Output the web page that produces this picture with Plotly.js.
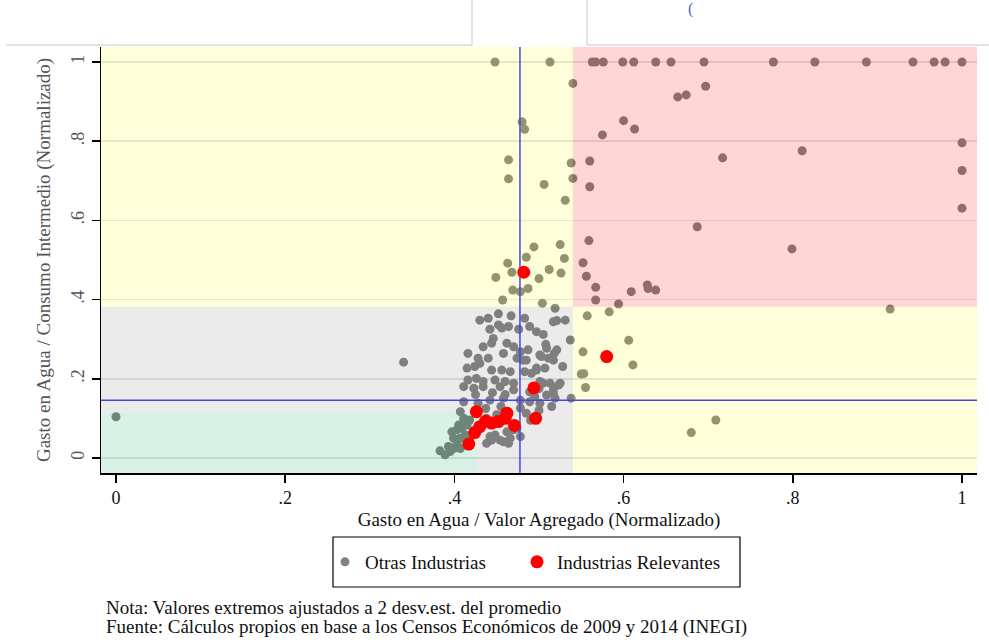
<!DOCTYPE html>
<html>
<head>
<meta charset="utf-8">
<script src="https://cdn.plot.ly/plotly-3.0.1.min.js"></script>
<style>
  html, body { margin: 0; padding: 0; background: #ffffff; }
  #chart { width: 989px; height: 643px; }
</style>
</head>
<body>
<div id="chart"></div>
<script>
// ---------- Data: "Otras Industrias" (gray) ----------
const otherX_top = [0.448,0.513,0.563,0.567,0.576,0.599,0.612,0.638,0.656,0.695,0.777,0.826,0.887,0.942,0.967,0.980,1.000];
const otherY_top = [1,1,1,1,1,1,1,1,1,1,1,1,1,1,1,1,1];

const otherX_upper = [0.540,0.664,0.674,0.697,0.480,0.483,0.600,0.613,0.575,1.000,
                      0.811,0.717,0.464,0.538,0.560,1.000,0.464,0.540,0.506,0.560,
                      0.531,1.000,0.687,0.559,0.799,0.494,0.525,0.485,0.530,0.552,
                      0.463,0.449,0.468,0.512,0.526,0.500,0.556,0.487,0.469,0.478,
                      0.567,0.628,0.629,0.638,0.609,0.457,0.504,0.567,0.594,0.519,
                      0.915,0.583,0.557];
const otherY_upper = [0.946,0.912,0.917,0.939,0.849,0.830,0.852,0.831,0.816,0.796,
                      0.776,0.758,0.753,0.745,0.750,0.726,0.705,0.706,0.691,0.685,
                      0.651,0.631,0.584,0.549,0.528,0.533,0.539,0.507,0.504,0.493,
                      0.492,0.456,0.469,0.476,0.467,0.453,0.459,0.428,0.424,0.420,
                      0.431,0.437,0.428,0.424,0.420,0.399,0.391,0.399,0.389,0.378,
                      0.376,0.369,0.359];

const otherX_side = [0.537,0.606,0.552,0.611,0.550,0.553,0.555,0.538,0.709,0.680,0.528,0.531,0.340,0.000];
const otherY_side = [0.298,0.297,0.268,0.235,0.212,0.213,0.178,0.151,0.096,0.064,0.231,0.348,0.242,0.104];

const otherX_cluster = [0.430,0.440,0.452,0.467,0.483,0.521,0.517,0.452,0.442,0.456,
                        0.464,0.476,0.489,0.497,0.505,0.446,0.434,0.444,0.462,0.470,
                        0.508,0.521,0.518,0.509,0.478,0.487,0.416,0.428,0.440,0.458,
                        0.474,0.481,0.503,0.517,0.485,0.501,0.511,0.415,0.424,0.430,
                        0.444,0.456,0.466,0.483,0.497,0.507,0.491,0.497,0.416,0.426,
                        0.434,0.448,0.460,0.470,0.501,0.513,0.523,0.525,0.505,0.411,
                        0.423,0.434,0.454,0.470,0.489,0.509,0.517,0.517,0.519,0.411,
                        0.428,0.442,0.458,0.478,0.489,0.501,0.515,0.478,0.485,0.407,
                        0.411,0.405,0.438,0.450,0.462,0.474,0.448,0.458,0.444,0.466,
                        0.438,0.454,0.442,0.464,0.478,0.470,0.425,0.445,0.460,0.495,
                        0.500,0.437,0.455,0.500,0.490];
const otherY_cluster = [0.348,0.353,0.364,0.359,0.353,0.347,0.344,0.336,0.325,0.328,
                        0.332,0.325,0.332,0.319,0.312,0.302,0.281,0.290,0.290,0.281,
                        0.287,0.273,0.264,0.277,0.268,0.273,0.264,0.252,0.252,0.264,
                        0.252,0.247,0.256,0.247,0.247,0.260,0.252,0.227,0.231,0.239,
                        0.222,0.222,0.218,0.218,0.222,0.227,0.214,0.227,0.197,0.201,
                        0.193,0.197,0.193,0.189,0.193,0.189,0.184,0.189,0.189,0.180,
                        0.176,0.180,0.180,0.172,0.167,0.159,0.163,0.172,0.151,0.142,
                        0.138,0.146,0.151,0.146,0.142,0.138,0.130,0.126,0.113,0.117,
                        0.100,0.083,0.100,0.109,0.066,0.075,0.058,0.041,0.045,0.050,
                        0.037,0.045,0.054,0.037,0.054,0.071,0.160,0.165,0.160,0.155,
                        0.175,0.125,0.130,0.120,0.095];

const otherX_low = [0.383,0.389,0.395,0.399,0.393,0.403,0.407,0.399,0.413,0.397,
                    0.403,0.409,0.415,0.418,0.411,0.423,0.415,0.407,0.418,0.427];
const otherY_low = [0.018,0.008,0.016,0.024,0.029,0.037,0.050,0.050,0.058,0.066,
                    0.071,0.075,0.083,0.096,0.092,0.066,0.033,0.024,0.050,0.075];

// ---------- Data: "Industrias Relevantes" (red) ----------
const relevX = [0.482,0.580,0.494,0.426,0.437,0.430,0.424,0.444,0.452,0.460,0.462,0.471,0.496,0.417];
const relevY = [0.469,0.256,0.177,0.117,0.093,0.079,0.064,0.088,0.092,0.100,0.113,0.082,0.100,0.035];

// ---------- Reference lines and quadrant cut-offs ----------
const meanX = 0.4775;      // vertical blue line
const meanY = 0.146;       // horizontal blue line
const cutX = 0.540;        // high/low x cut
const cutY = 0.382;        // high/low y cut
const greenX = 0.427;      // low-low cut
const greenY = 0.114;

// ---------- Axes ----------
const xRange = [-0.0177, 1.0177];
const yRange = [-0.038, 1.038];
const tickVals = [0, 0.2, 0.4, 0.6, 0.8, 1];
const tickText = ['0', '.2', '.4', '.6', '.8', '1'];

const labels = {
  xTitle: 'Gasto en Agua / Valor Agregado (Normalizado)',
  yTitle: 'Gasto en Agua / Consumo Intermedio (Normalizado)',
  other: 'Otras Industrias',
  relev: 'Industrias Relevantes',
  note1: 'Nota: Valores extremos ajustados a 2 desv.est. del promedio',
  note2: 'Fuente: Cálculos propios en base a los Censos Económicos de 2009 y 2014 (INEGI)'
};

const otherX = [].concat(otherX_top, otherX_upper, otherX_side, otherX_cluster, otherX_low);
const otherY = [].concat(otherY_top, otherY_upper, otherY_side, otherY_cluster, otherY_low);

const FONT = '"Liberation Serif", "Times New Roman", serif';
const [x0, x1] = xRange, [y0, y1] = yRange;

function region(xs, ys, color) {
  return { type: 'scatter', mode: 'none', x: xs, y: ys, fill: 'toself',
           fillcolor: color, hoverinfo: 'skip', showlegend: false };
}

const traces = [
  { type: 'scatter', mode: 'markers', name: labels.other, x: otherX, y: otherY,
    marker: { color: '#808080', size: 9 }, hoverinfo: 'x+y', legend: 'legend' },
  // quadrant shading (drawn translucent over the gray markers)
  region([x0, cutX, cutX, x0], [cutY, cutY, y1, y1], 'rgba(255,255,0,0.15)'),
  region([cutX, x1, x1, cutX], [cutY, cutY, y1, y1], 'rgba(255,0,0,0.16)'),
  region([cutX, x1, x1, cutX], [y0, y0, cutY, cutY], 'rgba(255,255,0,0.15)'),
  region([x0, x0, cutX, cutX, greenX, greenX], [greenY, cutY, cutY, y0, y0, greenY], 'rgba(120,120,120,0.15)'),
  region([x0, greenX, greenX, x0], [y0, y0, greenY, greenY], 'rgba(0,170,80,0.15)'),
  // reference lines
  { type: 'scatter', mode: 'lines', x: [meanX, meanX], y: [y0, y1], line: { color: '#4646e6', width: 1.5 },
    hoverinfo: 'skip', showlegend: false },
  { type: 'scatter', mode: 'lines', x: [x0, x1], y: [meanY, meanY], line: { color: '#4646e6', width: 1.5 },
    hoverinfo: 'skip', showlegend: false },
  { type: 'scatter', mode: 'markers', name: labels.relev, x: relevX, y: relevY,
    marker: { color: '#ff0000', size: 13 }, hoverinfo: 'x+y', legend: 'legend2' }
];

const plotL = 101, plotR = 977, plotT = 47, plotB = 473;
const plotW = plotR - plotL, plotH = plotB - plotT;
const px2x = p => (p - plotL) / plotW;
const py2y = p => (plotB - p) / plotH;

const legendBase = {
  orientation: 'h', xanchor: 'left', y: py2y(562), yanchor: 'middle',
  borderwidth: 0, bgcolor: 'rgba(0,0,0,0)',
  font: { family: FONT, size: 19, color: '#111' }
};

const layout = {
  width: 989, height: 643,
  margin: { l: plotL, r: 989 - plotR, t: plotT, b: 643 - plotB, pad: 0 },
  paper_bgcolor: '#ffffff', plot_bgcolor: '#ffffff',
  font: { family: FONT, size: 18, color: '#000' },
  xaxis: {
    range: xRange, tickvals: tickVals, ticktext: tickText,
    showgrid: false, zeroline: false, showline: true, linecolor: '#000', linewidth: 1.5,
    ticks: 'outside', ticklen: 8, tickwidth: 1.5, tickcolor: '#000',
    tickfont: { family: FONT, size: 18, color: '#111' },
    title: { text: labels.xTitle, font: { family: FONT, size: 19, color: '#111' }, standoff: 5 },
    automargin: false
  },
  yaxis: {
    range: yRange, tickvals: tickVals, ticktext: tickText, tickangle: -90,
    showgrid: true, gridcolor: '#dfe6e6', gridwidth: 1.5,
    zeroline: false, showline: true, linecolor: '#000', linewidth: 1.5,
    ticks: 'outside', ticklen: 8, tickwidth: 1.5, tickcolor: '#000',
    tickfont: { family: FONT, size: 18, color: '#555' },
    title: { text: labels.yTitle, font: { family: FONT, size: 19, color: '#555' }, standoff: 12 },
    automargin: false
  },
  legend: Object.assign({}, legendBase, { x: px2x(325) }),
  legend2: Object.assign({}, legendBase, { x: px2x(517) }),
  annotations: [
    { xref: 'paper', yref: 'paper', x: px2x(104), y: py2y(607), xanchor: 'left', yanchor: 'middle',
      text: labels.note1, showarrow: false, font: { family: FONT, size: 19, color: '#111' } },
    { xref: 'paper', yref: 'paper', x: px2x(104), y: py2y(627), xanchor: 'left', yanchor: 'middle',
      text: labels.note2, showarrow: false, font: { family: FONT, size: 19, color: '#111' } },
    { xref: 'paper', yref: 'paper', x: px2x(690), y: py2y(9), xanchor: 'center', yanchor: 'middle',
      text: '(', showarrow: false, font: { family: FONT, size: 16, color: '#4472c4' } }
  ],
  shapes: [
    { type: 'rect', xref: 'paper', yref: 'paper', x0: px2x(333), x1: px2x(740), y0: py2y(537), y1: py2y(587),
      line: { color: '#000', width: 1.2 }, fillcolor: 'rgba(0,0,0,0)' },
    { type: 'line', xref: 'paper', yref: 'paper', x0: px2x(6), x1: px2x(472), y0: py2y(45), y1: py2y(45),
      line: { color: '#c8c8c8', width: 1 } },
    { type: 'line', xref: 'paper', yref: 'paper', x0: px2x(587), x1: px2x(989), y0: py2y(45), y1: py2y(45),
      line: { color: '#c8c8c8', width: 1 } },
    { type: 'line', xref: 'paper', yref: 'paper', x0: px2x(472), x1: px2x(472), y0: py2y(0), y1: py2y(45),
      line: { color: '#c8c8c8', width: 1 } },
    { type: 'line', xref: 'paper', yref: 'paper', x0: px2x(587), x1: px2x(587), y0: py2y(0), y1: py2y(45),
      line: { color: '#c8c8c8', width: 1 } }
  ]
};

Plotly.newPlot('chart', traces, layout, { displayModeBar: false, staticPlot: true });
</script>
</body>
</html>
